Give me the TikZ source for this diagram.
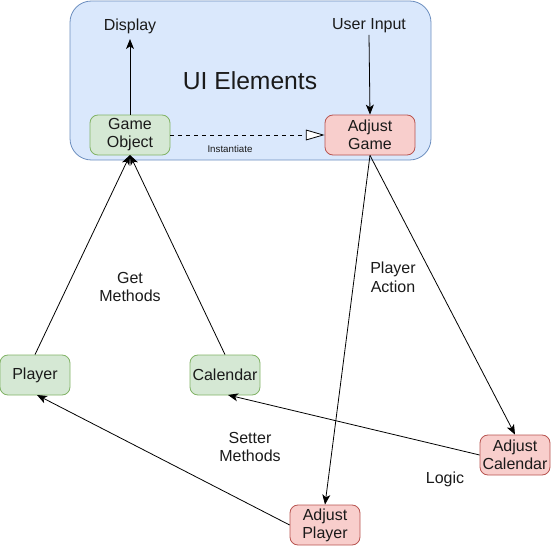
\documentclass[tikz,border=0pt]{standalone}
\usepackage{fontspec}
\setmainfont{Liberation Sans}
\usetikzlibrary{arrows.meta}
\definecolor{gfill}{HTML}{D5E8D4}
\definecolor{gline}{HTML}{82B366}
\definecolor{rfill}{HTML}{F8CECC}
\definecolor{rline}{HTML}{B85450}
\definecolor{bfill}{HTML}{DAE8FC}
\definecolor{bline}{HTML}{6C8EBF}
\definecolor{txt}{HTML}{1A1A1A}
\tikzset{
  box/.style={rounded corners=6pt, minimum height=30pt, inner sep=0pt, align=center,
    font=\fontsize{12}{13.5}\selectfont, text=txt, line width=0.6pt},
  gbox/.style={box, draw=gline, fill=gfill},
  rbox/.style={box, draw=rline, fill=rfill},
  lbl/.style={font=\fontsize{12}{14}\selectfont, align=center, text=txt},
  arr/.style={draw=black, line width=0.6pt, -{Stealth[length=7.5pt,width=6pt,inset=2pt]}},
}
\begin{document}
\begin{tikzpicture}[x=0.75pt,y=-0.75pt]
\useasboundingbox (0,0) rectangle (551,546);
\node[draw=bline, fill=bfill, rounded corners=16pt, line width=0.6pt, minimum width=270.75pt, minimum height=119.25pt, inner sep=0pt] (ui) at (250.5,80.5) {};
\node[font=\fontsize{18.5}{20}\selectfont, text=txt] (uit) at (250,81) {UI Elements};
\node[gbox, minimum width=60pt] (go) at (130,135) {Game\\Object};
\node[rbox, minimum width=67.5pt] (ag) at (370,135) {Adjust\\Game};
\node[lbl, inner sep=1pt] (disp) at (130,26) {Display};
\node[lbl, inner sep=1pt] (ui2) at (369,26) {User Input};
\node[font=\fontsize{7.3}{8}\selectfont, text=txt] (inst) at (230,149) {Instantiate};
\node[gbox, minimum width=52.5pt] (pl) at (35,375) {Player};
\node[gbox, minimum width=52.5pt] (cal) at (225,375) {Calendar};
\node[rbox, minimum width=52.5pt] (acal) at (515,455) {Adjust\\Calendar};
\node[rbox, minimum width=52.5pt] (apl) at (325,525) {Adjust\\Player};
\node[lbl] (gm) at (130,287) {Get\\Methods};
\node[lbl] (pa) at (393,277) {Player\\Action};
\node[lbl] (sm) at (250,447) {Setter\\Methods};
\node[lbl] (lg) at (445,479) {Logic};
\coordinate (gob) at (130,155);
\draw[arr] (go.north) -- ([yshift=-3pt]disp.south);
\draw[arr] (ui2.south) -- (ag.north);
\draw[line width=0.6pt, dashed, -{Triangle[open, fill=white, length=14pt, width=8pt]}] (go.east) -- (ag.west);
\draw[arr] (pl.north) -- (gob);
\draw[arr] (cal.north) -- (gob);
\draw[arr] (ag.south) -- (apl.north);
\draw[arr] (ag.south) -- (acal.north);
\draw[arr] (acal.west) -- (228,395);
\draw[arr] (apl.west) -- (37,395);
\end{tikzpicture}
\end{document}
